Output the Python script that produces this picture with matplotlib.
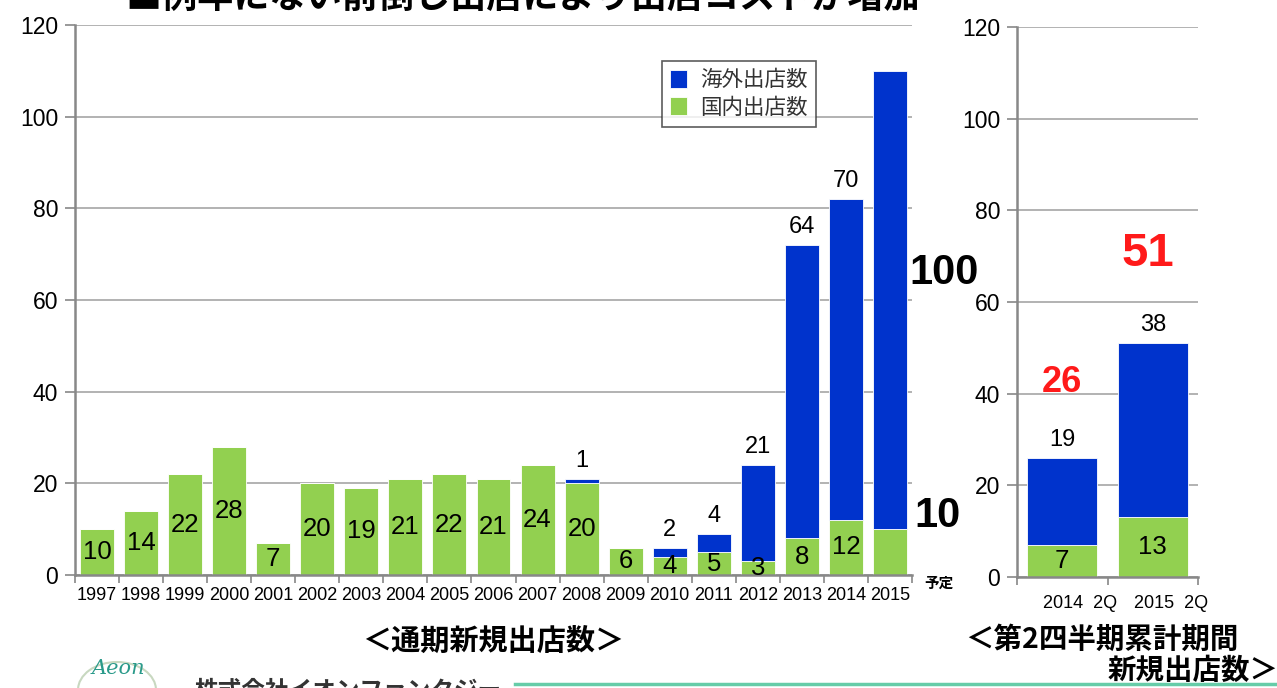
import matplotlib
matplotlib.use("Agg")
import matplotlib.pyplot as plt
import numpy as np
from matplotlib.patches import Ellipse
from matplotlib.lines import Line2D

plt.rcParams['font.family'] = ['Liberation Sans', 'Noto Sans CJK JP', 'DejaVu Sans']

# ---- data ----
years = ['1997', '1998', '1999', '2000', '2001', '2002', '2003', '2004', '2005', '2006',
         '2007', '2008', '2009', '2010', '2011', '2012', '2013', '2014', '2015']
domestic = [10, 14, 22, 28, 7, 20, 19, 21, 22, 21, 24, 20, 6, 4, 5, 3, 8, 12, 10]
overseas = [0, 0, 0, 0, 0, 0, 0, 0, 0, 0, 0, 1, 0, 2, 4, 21, 64, 70, 100]

q_labels = ['2014  2Q', '2015  2Q']
q_domestic = [7, 13]
q_overseas = [19, 38]

yticks = [0, 20, 40, 60, 80, 100, 120]

BLUE = '#0033CC'
GREEN = '#92D050'
GRID = '#A6A6A6'
AXC = '#888888'
JP = ['Noto Sans CJK JP', 'DejaVu Sans']

W, H = 1277, 688
fig = plt.figure(figsize=(W / 100, H / 100), dpi=100)

def box(l, r, t, b):
    return [l / W, 1 - b / H, (r - l) / W, (b - t) / H]

ax1 = fig.add_axes(box(75, 912, 25, 575))
ax2 = fig.add_axes(box(1017, 1198, 27, 577))

def style(ax, n):
    ax.set_ylim(0, 120)
    ax.set_xlim(-0.5, n - 0.5)
    ax.set_yticks(yticks)
    ax.yaxis.grid(True, color=GRID, linewidth=1.2)
    ax.set_axisbelow(True)
    for s in ['top', 'right']:
        ax.spines[s].set_visible(False)
    for s in ['left', 'bottom']:
        ax.spines[s].set_color(AXC)
        ax.spines[s].set_linewidth(1.8)
    ax.tick_params(axis='y', length=7, color=AXC, width=1.2, labelsize=16.5, pad=5)
    ax.set_xticks(np.arange(n + 1) - 0.5, minor=True)
    ax.tick_params(axis='x', which='minor', length=6, color=AXC, width=1.2)
    ax.tick_params(axis='x', which='major', length=0)

# ---- left chart ----
x = np.arange(len(years))
style(ax1, len(years))
bw = 0.77
ax1.bar(x, domestic, bw, color=GREEN, edgecolor='white', linewidth=0.6, label='国内出店数', zorder=2)
ax1.bar(x, overseas, bw, bottom=domestic, color=BLUE, edgecolor='white', linewidth=0.6, label='海外出店数', zorder=2)
ax1.set_xticks(x)
ax1.set_xticklabels(years, fontsize=13)
ax1.tick_params(axis='x', which='major', pad=9)

for i, (d, o) in enumerate(zip(domestic, overseas)):
    if i == len(years) - 1:
        continue
    ax1.text(i, d / 2, str(d), ha='center', va='center', fontsize=18.5, zorder=3)
    if o > 0:
        ax1.text(i, d + o + 1.5, str(o), ha='center', va='bottom', fontsize=17, zorder=3)

last = len(years) - 1
ax1.text(last + 0.45, domestic[last] + overseas[last] * 0.56, str(overseas[last]),
         ha='left', va='center', fontsize=30, fontweight='bold', clip_on=False)
ax1.text(last + 0.55, domestic[last] + 2.8, str(domestic[last]),
         ha='left', va='center', fontsize=30, fontweight='bold', clip_on=False)
ax1.text(last + 0.77, -1.8, '予定', ha='left', va='center', fontsize=10.5,
         fontweight='bold', family=JP, clip_on=False)

h, l = ax1.get_legend_handles_labels()
leg = ax1.legend(h[::-1], l[::-1], loc='upper left', bbox_to_anchor=(0.688, 0.955),
                 prop={'family': JP, 'size': 15.5}, frameon=True, fancybox=False,
                 edgecolor='#333333', handlelength=0.8, handleheight=0.9,
                 handletextpad=0.6, borderpad=0.4, labelspacing=0.25)
leg.get_frame().set_linewidth(1.2)
for t in leg.get_texts():
    t.set_color('#333333')

# ---- right chart ----
xq = np.arange(len(q_labels))
style(ax2, len(q_labels))
ax2.bar(xq, q_domestic, bw, color=GREEN, edgecolor='white', linewidth=0.6, zorder=2)
ax2.bar(xq, q_overseas, bw, bottom=q_domestic, color=BLUE, edgecolor='white', linewidth=0.6, zorder=2)
ax2.set_xticks(xq + 0.2)
ax2.set_xticklabels(q_labels, fontsize=13)
ax2.tick_params(axis='x', which='major', pad=13)
for i, (d, o) in enumerate(zip(q_domestic, q_overseas)):
    ax2.text(i, d / 2, str(d), ha='center', va='center', fontsize=18.5, zorder=3)
    ax2.text(i, d + o + 1.5, str(o), ha='center', va='bottom', fontsize=17, zorder=3)
totals = [d + o for d, o in zip(q_domestic, q_overseas)]
ax2.text(0, totals[0] + 16.5, str(totals[0]), ha='center', va='center', fontsize=26,
         fontweight='bold', color='#FF1A1A', zorder=3)
ax2.text(1 - 0.05, totals[1] + 19.5, str(totals[1]), ha='center', va='center', fontsize=34,
         fontweight='bold', color='#FF1A1A', zorder=3)

# ---- titles / footer ----
fig.text(125 / W, 1 + 3 / H, '■例年にない前倒し出店により出店コストが増加', ha='left', va='center',
         fontsize=26, fontweight='bold', family=JP)
fig.text(493 / W, 1 - 641 / H, '＜通期新規出店数＞', ha='center', va='center',
         fontsize=21, fontweight='bold', family=JP)
fig.text(965 / W, 1 - 640 / H, '＜第2四半期累計期間', ha='left', va='center',
         fontsize=20.5, fontweight='bold', family=JP)
fig.text(1279 / W, 1 - 671 / H, '新規出店数＞', ha='right', va='center',
         fontsize=20.5, fontweight='bold', family=JP)

# footer logo / company
fig.add_artist(Ellipse((117 / W, 1 - 690 / H), 78 / W, 56 / H, fill=False,
                       edgecolor='#C8D8C0', linewidth=1.5, transform=fig.transFigure))
fig.text(118 / W, 1 - 668 / H, 'Aeon', ha='center', va='center', fontsize=15,
         style='italic', family='DejaVu Serif', color='#2A9A8A')
fig.text(195 / W, 1 - 690 / H, '株式会社イオンファンタジー', ha='left', va='center',
         fontsize=17, fontweight='bold', family=JP, color='#333333')
fig.add_artist(Line2D([515 / W, 1.0], [1 - 684 / H, 1 - 684 / H], color='#66CCA8',
                      linewidth=2.5, transform=fig.transFigure))

fig.savefig('out.png', dpi=100)
